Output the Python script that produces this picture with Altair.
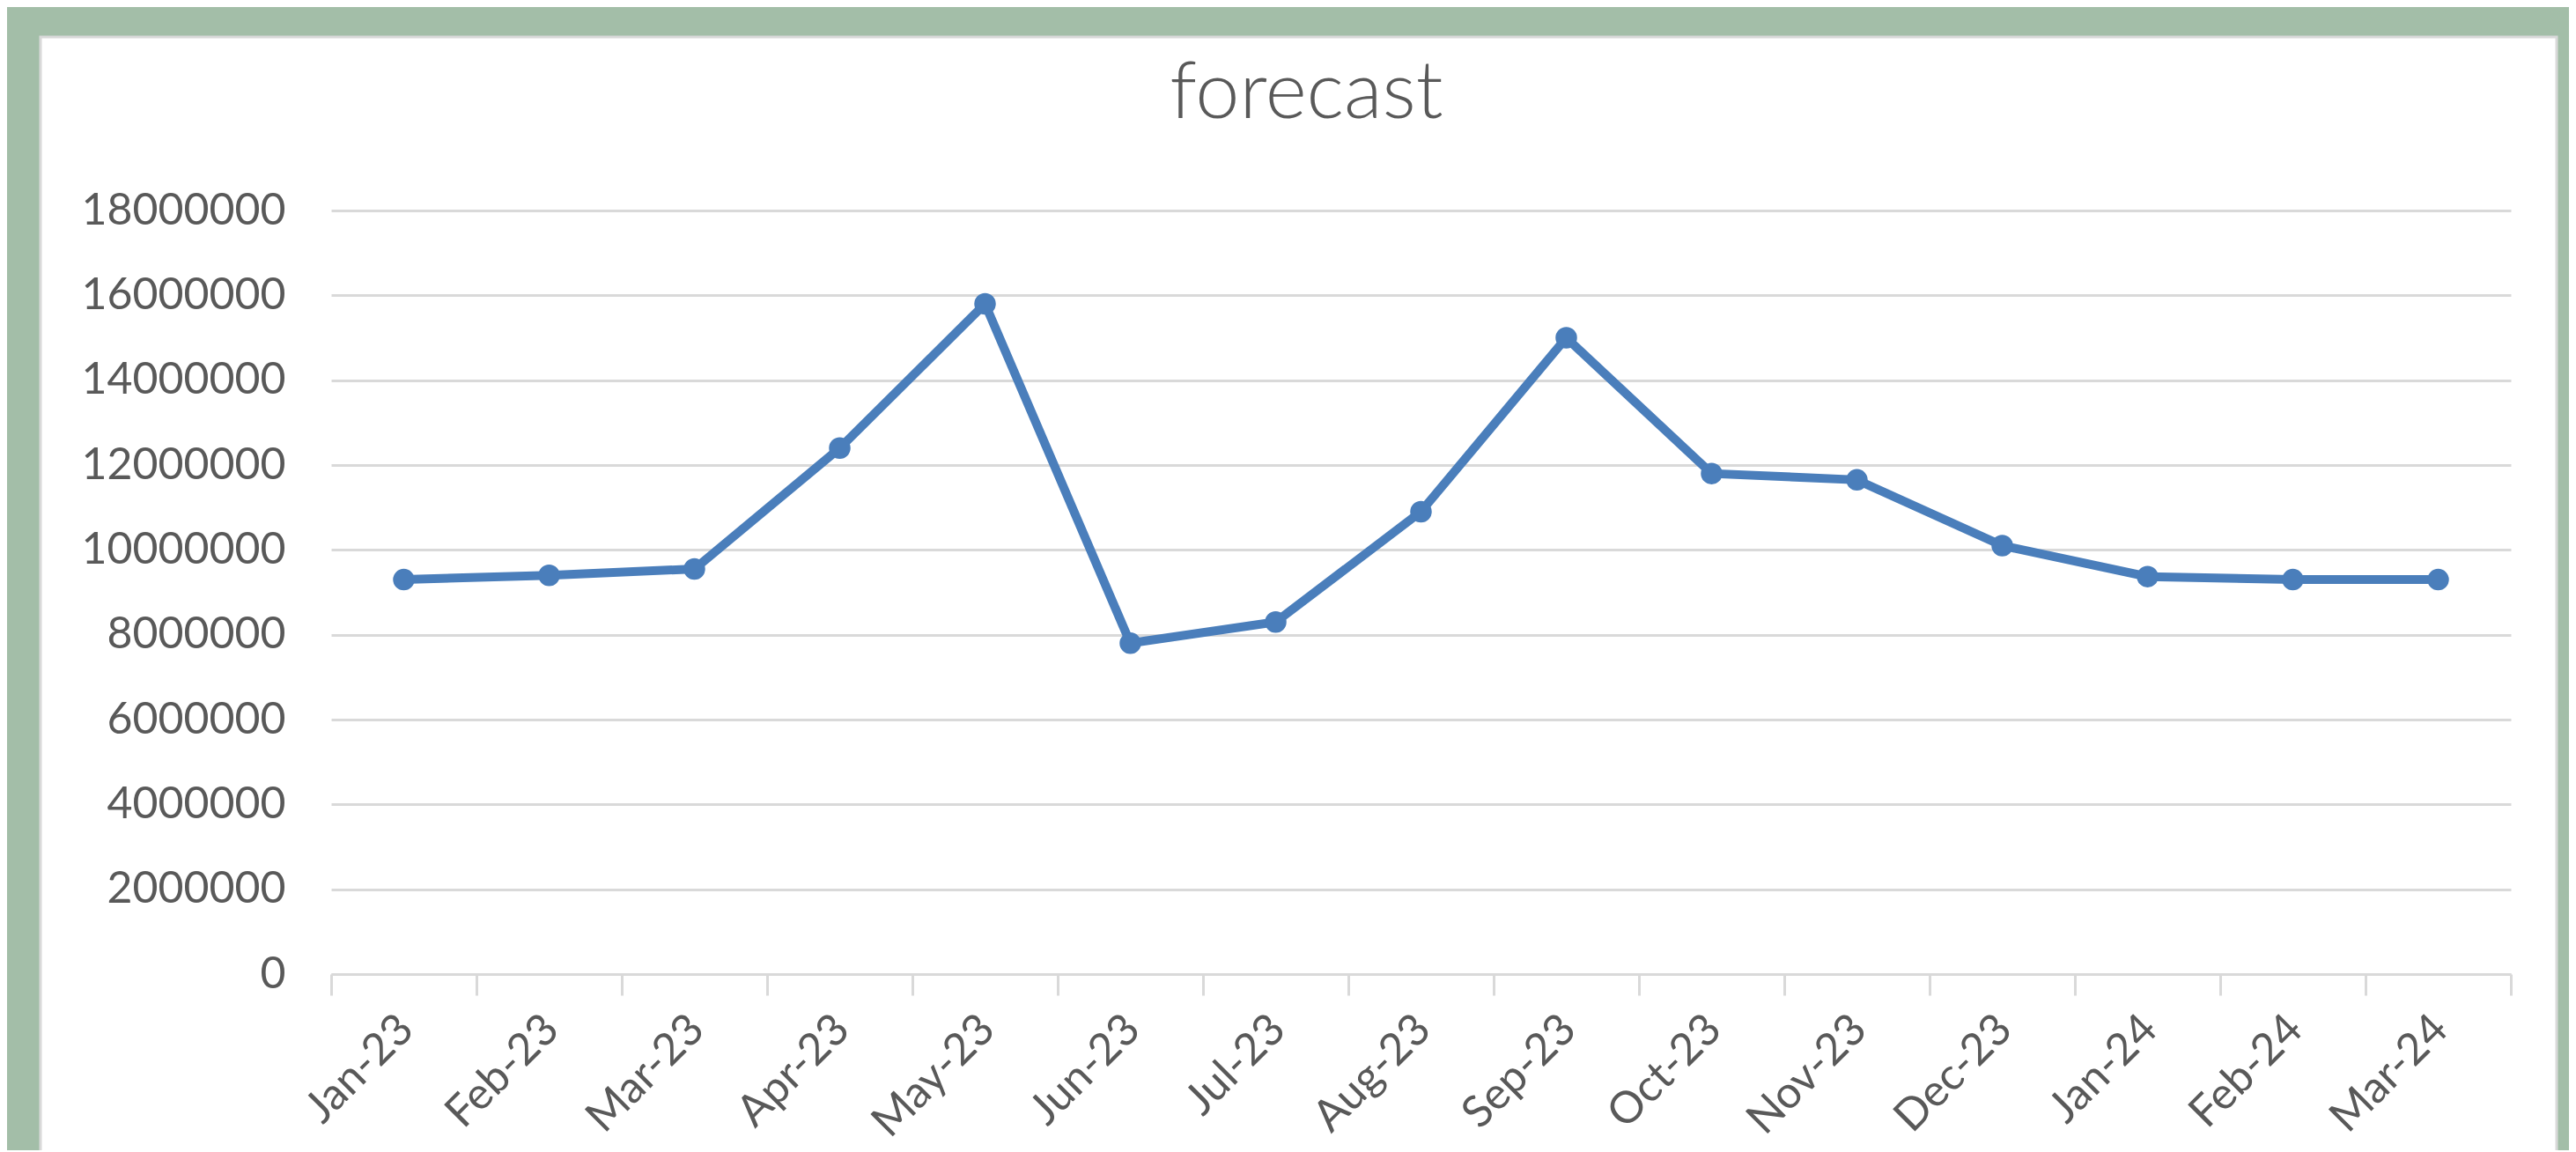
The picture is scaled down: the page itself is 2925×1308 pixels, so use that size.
import altair as alt
import pandas as pd

months = ["Jan-23", "Feb-23", "Mar-23", "Apr-23", "May-23", "Jun-23", "Jul-23",
          "Aug-23", "Sep-23", "Oct-23", "Nov-23", "Dec-23", "Jan-24", "Feb-24", "Mar-24"]
forecast = [9300000, 9400000, 9550000, 12400000, 15800000, 7800000, 8300000,
            10900000, 15000000, 11800000, 11650000, 10100000, 9370000, 9300000, 9300000]
y_ticks = [0, 2000000, 4000000, 6000000, 8000000, 10000000, 12000000,
           14000000, 16000000, 18000000]

W, H = 2475, 867
BLUE = "#4a7ebb"
GRID = "#d9d9d9"
TXT = "#595959"
GREEN = "#a3bea8"
FONT = "Lato"

df = pd.DataFrame({"month": months, "value": forecast})
frame_df = pd.DataFrame({"p": [0]})

x_enc = alt.X(
    "month:O", sort=months,
    scale=alt.Scale(type="band", paddingInner=0, paddingOuter=0),
    axis=alt.Axis(title=None, labelAngle=315, tickBand="extent",
                  domainColor=GRID, domainWidth=3, tickColor=GRID, tickWidth=3,
                  tickSize=24, labelPadding=13, labelOffset=-15, labelFont=FONT,
                  labelFontSize=50, labelColor=TXT, labelLimit=0, grid=False),
)
y_enc = alt.Y(
    "value:Q", scale=alt.Scale(domain=[0, 18000000], nice=False, zero=True),
    axis=alt.Axis(title=None, values=y_ticks, format="d", grid=True, gridColor=GRID,
                  gridWidth=3, domain=False, ticks=False, labelPadding=52,
                  labelLimit=0, labelFont=FONT, labelFontSize=50, labelColor=TXT),
)

# green frame around the white chart panel
frame_top = alt.Chart(frame_df).mark_rect(color=GREEN).encode(
    x=alt.value(-368), x2=alt.value(2541), y=alt.value(-231), y2=alt.value(-197)
)
frame_left = alt.Chart(frame_df).mark_rect(color=GREEN).encode(
    x=alt.value(-368), x2=alt.value(-330), y=alt.value(-231), y2=alt.value(1069)
)
frame_right = alt.Chart(frame_df).mark_rect(color=GREEN).encode(
    x=alt.value(2527), x2=alt.value(2541), y=alt.value(-231), y2=alt.value(1069)
)
panel_edge = alt.Chart(frame_df).mark_rect(fill=None, stroke=GRID, strokeWidth=3).encode(
    x=alt.value(-330), x2=alt.value(2527), y=alt.value(-197), y2=alt.value(1075)
)

line = alt.Chart(df).mark_line(color=BLUE, strokeWidth=10).encode(x=x_enc, y=y_enc)
pts = alt.Chart(df).mark_point(filled=True, size=600, opacity=1, color=BLUE).encode(
    x=x_enc, y=y_enc
)

chart = alt.layer(line, pts, frame_top, frame_left, frame_right, panel_edge).properties(
    width=W, height=H,
    padding={"left": 368, "top": 231, "right": 66, "bottom": 200},
    autosize="none",
    title=alt.TitleParams(text="forecast", font=FONT, fontSize=90, fontWeight=300,
                          color=TXT, anchor="middle", frame="group", dx=-130,
                          baseline="alphabetic", offset=-216),
).configure(background="white").configure_view(stroke=None)

chart.save("out.html", embed_options={"renderer": "svg", "actions": False})
